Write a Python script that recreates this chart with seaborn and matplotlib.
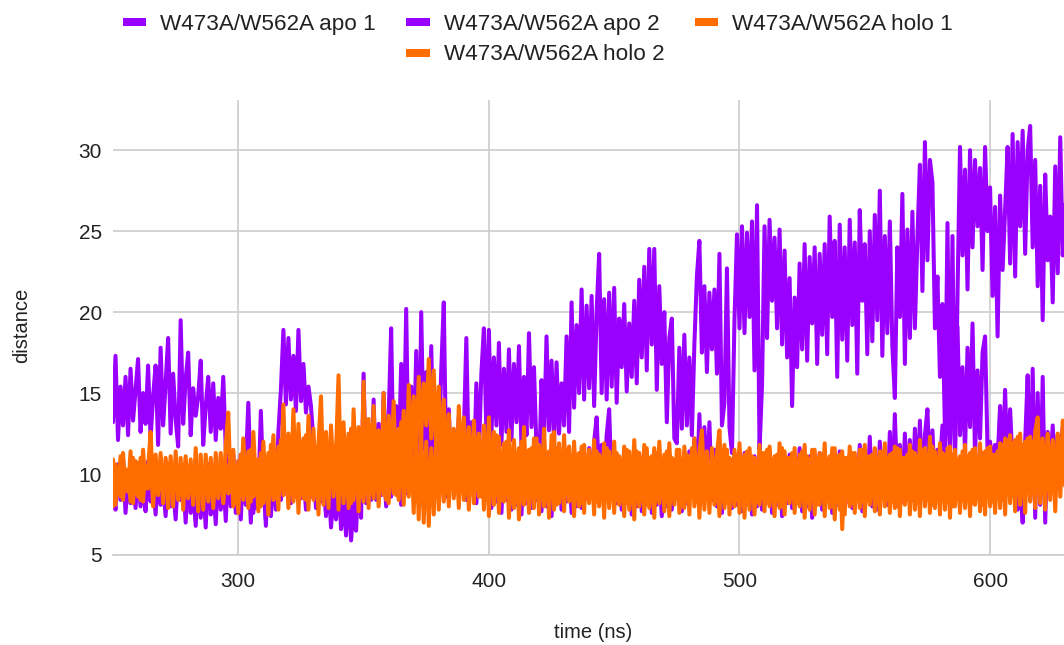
import numpy as np
import pandas as pd
import matplotlib
matplotlib.use("Agg")
import matplotlib.pyplot as plt
from matplotlib.lines import Line2D
import seaborn as sns

# Inter-residue distance traces, one sample per ns starting at T_START
T_START = 250

apo_1 = [
    13.2, 17.3, 12.1, 15.4, 13.0, 16.0, 12.4, 16.5, 13.3, 15.2,
    17.1, 12.6, 15.0, 13.1, 16.7, 12.2, 14.8, 16.7, 11.8, 17.8,
    13.0, 15.6, 18.4, 12.5, 16.2, 13.4, 11.7, 19.5, 13.1, 15.9,
    17.5, 12.4, 15.3, 13.6, 14.8, 17.0, 11.8, 14.2, 16.0, 12.6,
    15.6, 12.1, 14.7, 12.8, 16.0, 11.5, 10.2, 11.4, 8.9, 10.6,
    9.1, 11.2, 8.3, 10.5, 14.4, 9.4, 7.6, 10.1, 8.5, 13.9,
    9.2, 7.2, 11.0, 8.4, 10.3, 7.8, 12.6, 15.2, 18.9, 14.3,
    18.4, 14.6, 17.3, 13.9, 18.9, 14.5, 16.8, 13.8, 15.4, 14.2,
    12.0, 9.5, 11.2, 8.3, 10.4, 7.4, 9.6, 6.7, 8.8, 7.2,
    9.8, 6.6, 8.5, 6.2, 9.1, 5.9, 8.0, 6.5, 10.2, 7.3,
    16.2, 9.0, 12.8, 8.4, 14.6, 9.3, 13.1, 8.7, 15.0, 10.4,
    13.6, 19.0, 9.8, 14.2, 10.6, 16.8, 11.2, 20.2, 9.5, 15.4,
    10.8, 17.6, 9.2, 20.0, 11.5, 16.3, 9.8, 17.9, 10.3, 14.8,
    11.0, 16.5, 20.6, 10.2, 14.0, 9.6, 12.7, 10.1, 13.5, 9.4,
    12.4, 18.4, 10.3, 13.2, 9.8, 15.6, 11.2, 16.2, 19.0, 12.5,
    18.9, 12.3, 17.2, 13.0, 18.1, 11.8, 16.5, 12.6, 17.7, 12.1,
    16.8, 13.2, 17.9, 11.6, 16.0, 12.4, 18.7, 12.9, 16.6, 11.5,
    9.8, 15.8, 12.2, 18.5, 12.7, 17.0, 11.9, 16.9, 12.5, 15.6,
    13.0, 18.5, 12.6, 20.6, 14.1, 19.2, 15.0, 21.4, 14.6, 20.4,
    15.3, 21.0, 14.2, 20.1, 23.6, 15.0, 20.8, 14.6, 21.2, 15.4,
    21.5, 14.4, 19.6, 16.6, 20.5, 15.1, 19.3, 16.0, 20.7, 15.6,
    22.0, 17.2, 22.8, 16.4, 23.9, 18.0, 23.9, 15.2, 21.6, 16.8,
    20.0, 13.2, 18.4, 19.6, 12.2, 11.9, 17.8, 12.8, 18.6, 13.0,
    17.2, 12.4, 18.0, 22.2, 24.4, 17.5, 21.6, 16.3, 21.2, 17.7,
    21.4, 16.2, 23.6, 13.0, 14.4, 22.7, 12.9, 11.3, 19.5, 24.8,
    19.0, 25.3, 18.7, 24.9, 19.7, 25.6, 16.4, 26.6, 11.5, 15.5,
    25.3, 18.4, 25.7, 20.7, 24.6, 19.0, 25.1, 18.0, 23.8, 17.2,
    22.1, 14.2, 20.9, 16.6, 23.0, 17.7, 24.2, 17.0, 23.4, 19.3,
    24.0, 16.8, 23.6, 18.6, 24.2, 17.4, 25.9, 19.7, 24.4, 16.0,
    25.4, 18.3, 24.0, 17.0, 25.7, 19.2, 24.3, 16.2, 26.3, 20.7,
    24.2, 17.4, 25.0, 18.2, 26.0, 19.5, 27.5, 17.3, 24.7, 18.7,
    25.6, 17.9, 14.7, 24.0, 19.7, 27.3, 16.8, 25.1, 18.4, 26.2,
    19.0, 24.6, 29.1, 21.3, 30.5, 23.2, 29.4, 28.0, 19.0, 22.2,
    16.0, 20.5, 12.5, 25.5, 11.2, 24.7, 10.6, 21.0, 30.2, 23.5,
    28.8, 21.4, 30.0, 24.0, 29.4, 25.3, 28.9, 22.6, 30.2, 25.0,
    27.7, 21.0, 26.5, 18.5, 27.2, 22.6, 26.3, 30.2, 23.0, 31.0,
    22.2, 30.5, 25.3, 31.2, 23.6, 30.0, 31.5, 24.0, 29.4, 21.6,
    27.8, 19.5, 28.5, 23.2, 25.9, 20.6, 29.0, 22.4, 30.8, 23.5,
    27.0,
]

apo_2 = [
    9.0, 7.8, 10.6, 8.4, 11.0, 7.6, 9.8, 8.2, 10.4, 7.9,
    10.1, 8.0, 9.4, 7.7, 10.8, 8.3, 9.6, 7.5, 10.2, 8.1,
    9.3, 7.4, 10.5, 8.0, 9.1, 7.2, 10.0, 8.4, 9.7, 7.0,
    10.3, 7.6, 9.0, 6.8, 10.1, 7.3, 9.5, 6.7, 10.6, 7.5,
    9.2, 6.9, 10.4, 7.8, 9.9, 7.1, 10.7, 8.0, 11.2, 7.6,
    10.8, 7.2, 11.0, 8.1, 10.5, 7.0, 11.3, 7.9, 10.2, 8.3,
    10.6, 6.8, 11.1, 7.4, 10.2, 7.9, 11.5, 8.4, 10.0, 8.8,
    11.4, 8.2, 10.7, 9.0, 11.9, 8.5, 10.3, 7.8, 11.0, 8.6,
    10.5, 7.9, 11.3, 8.4, 10.0, 7.6, 10.8, 8.1, 9.6, 7.4,
    10.2, 7.8, 11.0, 8.3, 9.4, 7.0, 10.6, 8.0, 11.2, 8.5,
    10.4, 8.2, 11.6, 8.9, 10.1, 8.4, 12.2, 9.1, 10.8, 8.0,
    11.5, 8.6, 12.4, 9.0, 10.7, 8.1, 11.9, 8.8, 13.0, 9.3,
    11.2, 8.5, 12.6, 9.7, 11.0, 8.3, 12.1, 9.2, 10.6, 8.7,
    11.8, 9.1, 12.3, 8.6, 10.9, 9.4, 12.0, 8.9, 11.3, 9.0,
    10.7, 8.4, 11.6, 9.0, 12.5, 8.2, 10.9, 9.3, 11.8, 8.5,
    10.6, 7.9, 11.4, 8.3, 10.2, 7.6, 11.0, 8.4, 10.5, 7.8,
    11.2, 8.1, 10.4, 7.5, 10.9, 8.2, 11.3, 7.9, 10.1, 8.4,
    10.8, 7.7, 11.5, 8.0, 10.3, 7.4, 11.1, 8.6, 10.6, 7.8,
    11.0, 8.3, 10.5, 7.6, 11.4, 8.0, 10.2, 7.9, 10.9, 8.5,
    11.6, 8.8, 12.0, 13.5, 9.4, 11.8, 8.6, 12.4, 14.0, 9.0,
    11.2, 8.2, 10.6, 7.8, 11.0, 8.4, 10.3, 7.5, 10.8, 8.0,
    11.1, 7.7, 10.5, 8.3, 10.9, 7.6, 11.3, 8.1, 10.2, 7.4,
    10.7, 8.0, 11.2, 7.8, 10.4, 8.5, 11.0, 7.7, 10.6, 8.2,
    11.4, 8.6, 12.2, 9.0, 13.7, 8.8, 12.9, 9.2, 13.2, 8.4,
    11.5, 8.0, 10.8, 7.6, 11.2, 8.3, 10.5, 7.9, 11.0, 8.1,
    10.4, 7.7, 11.3, 8.2, 10.6, 7.5, 11.1, 8.0, 10.2, 7.8,
    10.9, 8.3, 11.4, 7.6, 10.5, 8.1, 11.0, 7.4, 10.7, 8.2,
    11.2, 7.9, 10.3, 8.4, 11.6, 7.7, 10.8, 8.0, 11.1, 7.3,
    10.6, 8.2, 11.3, 7.8, 10.4, 8.5, 11.0, 7.6, 10.9, 8.1,
    11.4, 7.5, 10.7, 8.3, 11.2, 7.9, 10.5, 8.6, 11.8, 7.7,
    11.0, 8.4, 12.3, 8.0, 11.5, 7.8, 12.0, 8.5, 11.3, 8.1,
    12.6, 8.7, 13.7, 9.0, 11.8, 8.3, 12.5, 8.9, 12.1, 8.4,
    12.8, 9.2, 13.3, 8.8, 12.4, 14.0, 9.5, 12.7, 9.0, 11.5,
    10.6, 13.0, 11.2, 15.8, 12.0, 17.4, 11.6, 19.1, 12.4, 16.6,
    11.3, 17.8, 12.9, 19.3, 11.0, 16.4, 12.2, 17.5, 18.5, 11.4,
    12.0, 10.6, 11.8, 10.9, 14.2, 10.3, 15.2, 9.8, 14.0, 10.5,
    11.4, 7.8, 9.6, 7.0, 12.0, 16.1, 8.4, 16.5, 7.3, 15.0,
    8.1, 16.0, 7.0, 12.6, 10.2, 13.0, 9.6, 12.4, 10.8, 12.9,
    11.2,
]

holo_1 = [
    10.9, 8.1, 10.4, 8.6, 11.3, 9.0, 10.2, 8.3, 11.0, 8.8,
    10.7, 8.4, 11.5, 9.1, 10.3, 12.6, 8.7, 11.2, 8.9, 10.6,
    8.2, 11.0, 9.2, 10.8, 8.0, 11.4, 8.7, 10.5, 9.3, 11.1,
    8.5, 10.9, 8.1, 11.6, 9.0, 10.4, 7.8, 11.2, 8.6, 10.7,
    8.3, 11.3, 9.1, 10.6, 8.4, 11.8, 13.8, 8.9, 11.5, 8.2,
    10.8, 8.7, 12.2, 9.0, 11.4, 8.3, 12.6, 9.4, 10.9, 8.0,
    12.0, 8.8, 11.3, 9.2, 12.4, 8.5, 11.7, 9.6, 14.3, 8.9,
    12.5, 9.3, 14.0, 8.6, 13.1, 9.8, 12.2, 8.4, 13.6, 9.0,
    12.8, 8.7, 11.9, 14.8, 9.2, 12.6, 8.5, 13.0, 9.6, 11.4,
    16.1, 8.9, 13.2, 9.4, 12.5, 8.2, 14.0, 9.8, 12.9, 8.6,
    15.7, 9.5, 13.4, 8.8, 14.2, 10.1, 12.7, 9.0, 15.0, 8.4,
    13.6, 9.9, 14.5, 8.7, 12.8, 10.4, 13.9, 9.2, 15.5, 10.6,
    14.8, 11.2, 16.0, 12.4, 15.6, 13.0, 17.1, 12.2, 16.4, 11.5,
    15.4, 10.3, 14.6, 9.8, 13.7, 10.5, 12.8, 9.2, 14.2, 10.0,
    13.5, 9.4, 12.9, 8.8, 13.3, 9.7, 12.5, 8.6, 13.0, 9.1,
    13.5, 8.7, 12.6, 9.3, 12.3, 8.4, 11.9, 9.0, 12.7, 8.2,
    12.1, 8.9, 11.6, 8.3, 12.9, 9.2, 11.5, 8.6, 12.2, 9.0,
    11.8, 8.5, 12.8, 8.8, 11.4, 9.3, 12.6, 8.1, 11.9, 8.7,
    12.4, 9.1, 11.7, 8.4, 12.0, 8.9, 11.3, 8.2, 11.8, 9.0,
    11.5, 8.6, 12.1, 8.3, 11.2, 9.2, 11.9, 8.5, 11.4, 8.8,
    12.0, 8.4, 11.1, 9.0, 11.7, 8.2, 11.4, 8.7, 12.1, 8.9,
    11.3, 8.6, 11.8, 8.1, 11.0, 9.1, 11.6, 8.4, 12.0, 8.7,
    11.2, 8.3, 11.9, 8.8, 10.9, 8.5, 11.5, 8.0, 11.7, 9.0,
    11.1, 8.6, 12.2, 8.3, 11.4, 12.7, 8.8, 11.0, 8.4, 11.6,
    8.9, 11.3, 12.7, 8.5, 11.8, 8.2, 11.0, 8.7, 11.5, 8.4,
    11.9, 8.6, 11.2, 8.1, 11.6, 8.9, 11.0, 8.3, 11.8, 8.5,
    11.3, 8.2, 11.7, 8.8, 11.1, 8.4, 11.9, 8.0, 11.4, 8.7,
    11.0, 8.5, 11.6, 8.2, 11.2, 8.9, 11.8, 8.3, 10.9, 8.6,
    11.5, 8.1, 11.3, 8.7, 11.9, 8.4, 11.1, 8.0, 11.6, 8.5,
    11.2, 6.6, 11.0, 8.6, 11.7, 8.2, 11.3, 8.8, 11.5, 8.3,
    11.8, 8.4, 11.1, 8.9, 11.6, 8.2, 11.4, 8.7, 11.9, 8.5,
    11.2, 8.3, 11.7, 8.0, 11.5, 8.8, 11.0, 8.4, 11.8, 8.6,
    11.3, 8.2, 12.1, 8.7, 11.6, 8.4, 12.3, 8.1, 11.4, 8.9,
    11.9, 8.5, 11.2, 8.3, 11.7, 8.0, 11.5, 8.6, 11.1, 8.4,
    11.8, 8.7, 11.3, 8.2, 11.6, 8.5, 11.9, 8.1, 11.4, 8.8,
    11.7, 8.3, 11.2, 8.6, 11.9, 8.4, 12.2, 8.9, 12.4, 8.7,
    12.1, 9.0, 12.5, 8.6, 12.0, 9.2, 12.3, 8.8, 12.6, 13.5,
    9.1, 12.2, 8.9, 12.4, 9.3, 12.0, 8.7, 12.5, 9.4, 13.3,
    10.2,
]

holo_2 = [
    8.0, 10.6, 8.8, 11.1, 8.4, 10.3, 8.9, 11.4, 8.2, 10.8,
    8.6, 11.0, 8.3, 10.5, 9.1, 11.2, 8.0, 10.4, 8.7, 11.3,
    9.0, 10.7, 7.9, 11.1, 8.8, 10.2, 8.4, 11.0, 7.8, 10.6,
    9.1, 10.3, 8.6, 10.9, 7.7, 11.2, 8.9, 10.5, 8.3, 11.0,
    7.9, 10.8, 8.5, 11.3, 8.2, 10.6, 8.8, 11.0, 8.0, 10.4,
    7.6, 11.2, 8.4, 10.7, 7.9, 11.5, 8.6, 10.9, 7.7, 11.3,
    8.2, 10.6, 7.5, 11.8, 8.4, 10.9, 7.8, 12.1, 8.7, 11.0,
    7.9, 11.6, 8.3, 12.0, 7.6, 11.3, 8.5, 12.4, 7.8, 11.1,
    8.4, 11.7, 7.5, 12.2, 8.1, 11.4, 7.9, 12.5, 8.6, 11.8,
    7.8, 12.3, 8.2, 11.6, 7.9, 12.8, 8.4, 11.9, 7.7, 12.4,
    8.3, 11.8, 7.9, 13.0, 8.5, 12.2, 8.0, 11.5, 8.7, 12.6,
    8.2, 12.0, 8.8, 11.4, 8.4, 13.2, 8.1, 12.3, 8.6, 11.7,
    7.6, 11.9, 7.2, 12.5, 7.0, 12.0, 6.8, 11.6, 7.5, 12.3,
    7.8, 12.1, 8.3, 11.5, 8.0, 12.4, 8.5, 11.2, 7.9, 12.0,
    8.4, 11.6, 7.8, 12.2, 8.2, 11.3, 8.6, 11.9, 7.8, 11.5,
    7.4, 11.8, 8.1, 12.4, 7.6, 11.2, 8.3, 12.0, 7.3, 11.5,
    7.9, 11.3, 7.2, 12.0, 8.1, 11.0, 7.6, 11.6, 7.9, 12.2,
    7.5, 11.4, 8.0, 11.1, 7.3, 12.4, 7.8, 11.6, 8.2, 11.0,
    7.7, 11.5, 8.3, 10.9, 7.4, 11.2, 8.0, 11.7, 7.6, 11.1,
    8.2, 10.8, 7.5, 11.4, 8.0, 11.0, 7.3, 11.6, 7.9, 10.9,
    7.6, 11.3, 8.1, 10.7, 7.4, 11.5, 7.8, 11.0, 7.2, 11.4,
    8.0, 10.9, 7.5, 11.6, 7.9, 11.1, 7.3, 11.3, 8.2, 10.8,
    7.7, 11.4, 7.4, 11.0, 8.1, 11.5, 7.6, 10.9, 7.9, 11.2,
    7.5, 11.6, 8.0, 11.1, 7.3, 10.8, 7.8, 11.4, 7.6, 11.0,
    8.1, 10.7, 7.4, 11.3, 7.9, 11.5, 7.5, 10.9, 8.0, 11.2,
    7.6, 11.0, 7.3, 11.4, 7.8, 11.1, 7.5, 10.8, 8.1, 11.3,
    7.7, 11.5, 8.0, 10.9, 7.4, 11.2, 7.9, 11.6, 7.5, 11.0,
    8.2, 11.3, 7.6, 10.8, 8.0, 11.4, 7.3, 11.1, 7.8, 11.5,
    7.5, 11.0, 8.1, 11.2, 7.4, 10.9, 7.9, 11.6, 7.2, 11.1,
    7.8, 11.4, 7.5, 11.0, 8.0, 11.3, 7.6, 10.8, 7.9, 11.5,
    7.4, 11.1, 8.1, 11.2, 7.7, 10.9, 7.5, 11.4, 8.0, 11.0,
    7.6, 11.3, 7.9, 11.6, 7.4, 11.0, 8.1, 11.2, 7.5, 11.4,
    7.8, 11.1, 7.4, 11.5, 8.0, 11.2, 7.6, 11.7, 7.9, 11.0,
    7.5, 11.3, 7.8, 11.6, 7.3, 11.2, 8.0, 10.9, 7.6, 11.4,
    7.9, 11.1, 7.4, 11.5, 8.1, 11.0, 7.7, 11.3, 7.5, 11.6,
    8.0, 11.2, 7.6, 11.4, 7.9, 11.8, 7.5, 12.1, 8.2, 11.9,
    7.7, 12.3, 8.1, 11.8, 7.6, 12.2, 8.3, 12.0, 7.9, 12.4,
    8.2, 11.9, 7.8, 12.5, 8.4, 12.1, 7.7, 12.3, 8.6, 11.8,
    9.0,
]

SERIES = [
    "W473A/W562A apo 1",
    "W473A/W562A apo 2",
    "W473A/W562A holo 1",
    "W473A/W562A holo 2",
]
COLORS = ["#9900ff", "#9900ff", "#ff6d01", "#ff6d01"]
X_TICKS = [300, 400, 500, 600]
Y_TICKS = [5, 10, 15, 20, 25, 30]

frames = []
for name, values in zip(SERIES, [apo_1, apo_2, holo_1, holo_2]):
    frames.append(pd.DataFrame({
        "time": T_START + np.arange(len(values)),
        "distance": values,
        "series": name,
    }))
df = pd.concat(frames, ignore_index=True)

sns.set_theme(style="white")
plt.rcParams["font.family"] = ["Liberation Sans", "DejaVu Sans"]
TEXT = "#222222"
GRID = "#cccccc"

W, H = 1064, 645
fig = plt.figure(figsize=(W / 100, H / 100), dpi=100)
ax = fig.add_axes([113 / W, 90 / H, 1 - 113 / W, 455 / H])

sns.lineplot(
    data=df, x="time", y="distance", hue="series", hue_order=SERIES,
    palette=dict(zip(SERIES, COLORS)), linewidth=2.9, estimator=None,
    sort=False, legend=False, ax=ax,
)

ax.set_xlim(T_START, 629.5)
ax.set_ylim(5, 33.1)
ax.set_xticks(X_TICKS)
ax.set_yticks(Y_TICKS)
ax.set_axisbelow(True)
ax.grid(True, color=GRID, linewidth=1.2)
for side in ["top", "right", "left"]:
    ax.spines[side].set_visible(False)
ax.spines["bottom"].set_color(GRID)
ax.spines["bottom"].set_linewidth(1.2)
ax.tick_params(axis="both", length=0, labelsize=15, labelcolor=TEXT)
ax.tick_params(axis="y", pad=8)
ax.tick_params(axis="x", pad=12)

ax.set_xlabel("time (ns)", fontsize=14.5, color=TEXT)
ax.set_ylabel("distance", fontsize=14.5, color=TEXT)
ax.xaxis.set_label_coords((593 - 113) / 951, -78 / 455)
ax.xaxis.label.set_va("center")
ax.yaxis.set_label_coords(-91 / 951, 230 / 455)
ax.yaxis.label.set_va("center")

# Legend: three columns, second row holds only the centre entry
def swatch(color):
    return Line2D([], [], color=color, linewidth=5.8, solid_capstyle="butt")

blank = Line2D([], [], alpha=0)
handles = [swatch(COLORS[0]), blank, swatch(COLORS[1]), swatch(COLORS[3]),
           swatch(COLORS[2]), blank]
labels = [SERIES[0], "", SERIES[1], SERIES[3], SERIES[2], ""]
fig.legend(
    handles, labels, ncol=3, loc="upper left",
    bbox_to_anchor=(123 / W, 1 - 14 / H), frameon=False,
    fontsize=16.2, labelcolor=TEXT, handlelength=1.04, handletextpad=0.62,
    columnspacing=1.35, labelspacing=0.42, borderpad=0, borderaxespad=0,
)

fig.savefig("out.png", dpi=100)
